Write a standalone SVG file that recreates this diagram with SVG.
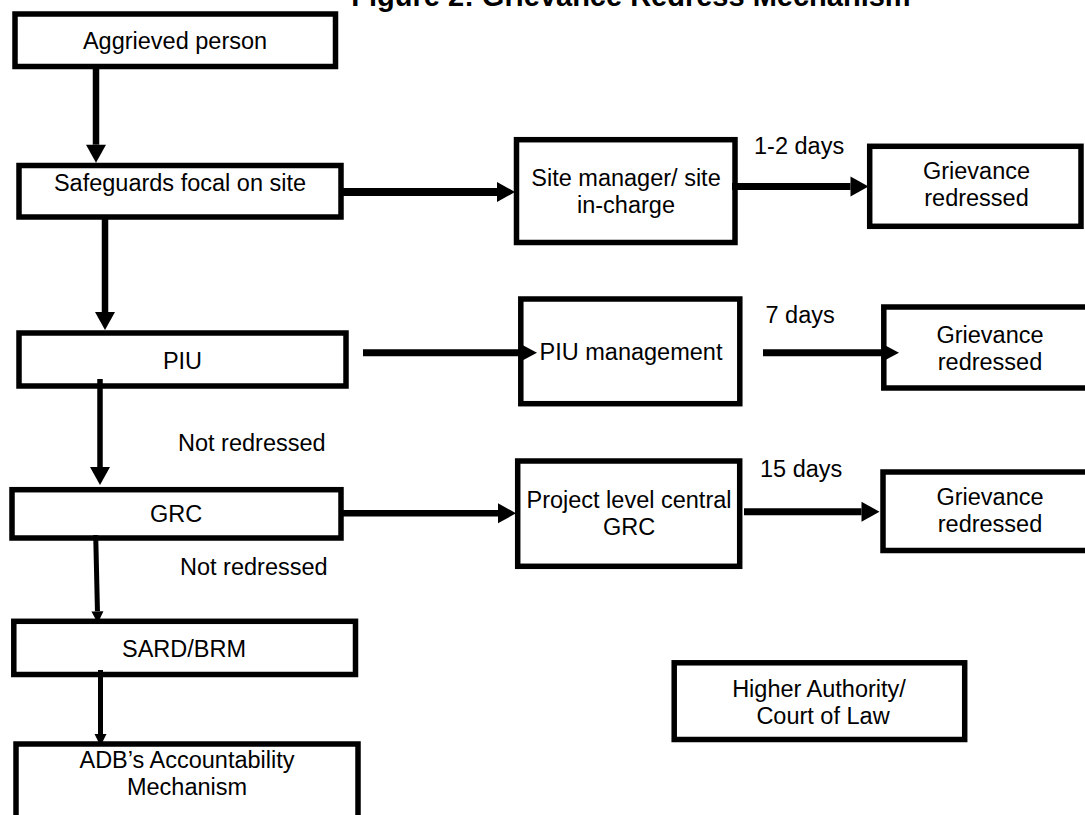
<svg xmlns="http://www.w3.org/2000/svg" width="1085" height="815" viewBox="0 0 1085 815">
<style>
  .box { fill: #ffffff; stroke: #000000; stroke-width: 5.5; }
  .t { font-family: "Liberation Sans", Arial, sans-serif; font-size: 23.5px; fill: #000000; text-anchor: middle; }
  .lbl { font-family: "Liberation Sans", Arial, sans-serif; font-size: 23.5px; fill: #000000; }
  .title { font-family: "Liberation Sans", Arial, sans-serif; font-size: 29px; font-weight: bold; fill: #000000; text-anchor: middle; }
  .c { stroke: #000000; fill: none; }
</style>
<defs>
  <marker id="mA" markerUnits="userSpaceOnUse" markerWidth="18" markerHeight="20" refX="0" refY="10" orient="auto" overflow="visible">
    <path d="M0,0 L18,10 L0,20 Z" fill="#000000"/>
  </marker>
  <marker id="mB" markerUnits="userSpaceOnUse" markerWidth="16" markerHeight="17" refX="0" refY="8.5" orient="auto" overflow="visible">
    <path d="M0,0 L16,8.5 L0,17 Z" fill="#000000"/>
  </marker>
  <marker id="mC" markerUnits="userSpaceOnUse" markerWidth="12" markerHeight="12" refX="0" refY="6" orient="auto" overflow="visible">
    <path d="M0,0 L12,6 L0,12 Z" fill="#000000"/>
  </marker>
</defs>
<rect x="0" y="0" width="1085" height="815" fill="#ffffff"/>
<text class="title" x="631" y="6">Figure 2: Grievance Redress Mechanism</text>

<g id="aggrieved">
  <rect class="box" x="15" y="14" width="320.5" height="52.5"/>
  <text class="t" x="175" y="49">Aggrieved person</text>
</g>
<g id="safeguards">
  <rect class="box" x="19" y="165.5" width="322" height="51.5"/>
  <text class="t" x="180" y="190.5">Safeguards focal on site</text>
</g>
<g id="piu">
  <rect class="box" x="19" y="333" width="327" height="53"/>
  <text class="t" x="182.5" y="369">PIU</text>
</g>
<g id="grc">
  <rect class="box" x="12" y="489.7" width="329" height="48.3"/>
  <text class="t" x="176" y="521.5">GRC</text>
</g>
<g id="sard">
  <rect class="box" x="13.8" y="621.3" width="341.7" height="53.2"/>
  <text class="t" x="184" y="656.5">SARD/BRM</text>
</g>
<g id="adb">
  <rect class="box" x="16" y="744" width="342" height="110"/>
  <text class="t" x="187" y="768">ADB’s Accountability</text>
  <text class="t" x="187" y="795">Mechanism</text>
</g>
<g id="site-manager">
  <rect class="box" x="516.5" y="139.7" width="218.5" height="102.8"/>
  <text class="t" x="626" y="186">Site manager/ site</text>
  <text class="t" x="626" y="212.5">in-charge</text>
</g>
<g id="piu-management">
  <rect class="box" x="520.8" y="299" width="219" height="104.7"/>
  <text class="t" x="631" y="360">PIU management</text>
</g>
<g id="project-grc">
  <rect class="box" x="517.7" y="461" width="222" height="105.3"/>
  <text class="t" x="629" y="508.3">Project level central</text>
  <text class="t" x="629" y="535">GRC</text>
</g>
<g id="redressed-1">
  <rect class="box" x="869.7" y="146.3" width="211.3" height="80"/>
  <text class="t" x="976.5" y="179">Grievance</text>
  <text class="t" x="976.5" y="206">redressed</text>
</g>
<g id="redressed-2">
  <rect class="box" x="883.8" y="307" width="213" height="81"/>
  <text class="t" x="990" y="343">Grievance</text>
  <text class="t" x="990" y="370">redressed</text>
</g>
<g id="redressed-3">
  <rect class="box" x="883" y="472" width="214" height="78.5"/>
  <text class="t" x="990" y="505">Grievance</text>
  <text class="t" x="990" y="532">redressed</text>
</g>
<g id="higher-authority">
  <rect class="box" x="674.2" y="662.8" width="290.5" height="76.7"/>
  <text class="t" x="819" y="697">Higher Authority/</text>
  <text class="t" x="823" y="724">Court of Law</text>
</g>

<g id="connectors">
  <line class="c" x1="96" y1="68" x2="96" y2="144.7" stroke-width="6.5" marker-end="url(#mA)"/>
  <line class="c" x1="105" y1="219" x2="105" y2="312" stroke-width="6.5" marker-end="url(#mA)"/>
  <line class="c" x1="100" y1="379" x2="100" y2="467" stroke-width="5.5" marker-end="url(#mA)"/>
  <line class="c" x1="95.7" y1="535" x2="97.45" y2="611.3" stroke-width="5" marker-end="url(#mC)"/>
  <line class="c" x1="100.5" y1="670" x2="100.5" y2="734" stroke-width="5" marker-end="url(#mC)"/>
  <line class="c" x1="343" y1="192" x2="497" y2="192" stroke-width="8" marker-end="url(#mA)"/>
  <line class="c" x1="732" y1="186.5" x2="850.5" y2="186.5" stroke-width="7" marker-end="url(#mA)"/>
  <line class="c" x1="363" y1="352.7" x2="521" y2="352.7" stroke-width="7" marker-end="url(#mB)"/>
  <line class="c" x1="763" y1="352.7" x2="883" y2="352.7" stroke-width="7" marker-end="url(#mB)"/>
  <line class="c" x1="343" y1="513.3" x2="498" y2="513.3" stroke-width="6.5" marker-end="url(#mA)"/>
  <line class="c" x1="744" y1="511.7" x2="861.5" y2="511.7" stroke-width="7" marker-end="url(#mA)"/>
</g>

<g id="labels">
  <text class="lbl" x="754" y="154">1-2 days</text>
  <text class="lbl" x="765.5" y="323">7 days</text>
  <text class="lbl" x="760" y="476.7">15 days</text>
  <text class="lbl" x="178" y="450.7">Not redressed</text>
  <text class="lbl" x="180" y="575">Not redressed</text>
</g>
</svg>
